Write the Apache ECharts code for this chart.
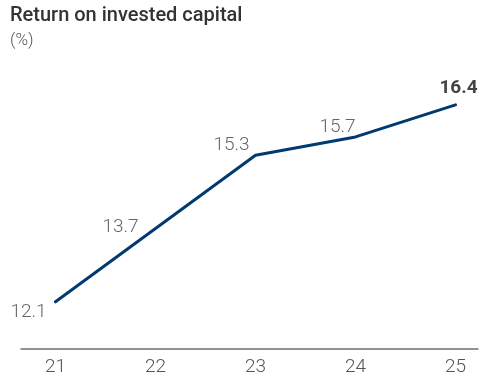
<!DOCTYPE html>
<html>
<head>
<meta charset="utf-8">
<script src="https://cdn.jsdelivr.net/npm/echarts@6/dist/echarts.min.js"></script>
<style>html,body{margin:0;padding:0;background:#fff}#c{width:481px;height:381px}</style>
</head>
<body>
<div id="c"></div>
<script>
const categories = ['21', '22', '23', '24', '25'];
const roic = [12.1, 13.7, 15.3, 15.7, 16.4];
const labelOffsets = [[-27, 10], [-35, -1], [-24, -10], [-18, -10], [3, -17]];

const FONT = 'Roboto';
const chart = echarts.init(document.getElementById('c'), null, {renderer: 'canvas'});
chart.setOption({
  animation: false,
  backgroundColor: '#ffffff',
  title: {
    text: 'Return on invested capital',
    subtext: '(%)',
    left: 5, top: 1,
    itemGap: 6,
    textStyle: {fontFamily: FONT, fontSize: 20, fontWeight: 500, color: '#333333'},
    subtextStyle: {fontFamily: FONT, fontSize: 17, fontWeight: 300, color: '#555555'}
  },
  grid: [
    {left: 55.5, right: 25.5, top: 74.2, bottom: 32},
    {left: 21, right: 3, top: 74.2, bottom: 32}
  ],
  xAxis: [
    {
      type: 'category', gridIndex: 0, data: categories, boundaryGap: false,
      axisLine: {show: false}, axisTick: {show: false}, splitLine: {show: false},
      axisLabel: {fontFamily: FONT, fontSize: 19, fontWeight: 300, color: '#555555', margin: 9}
    },
    {
      type: 'value', gridIndex: 1, min: 0, max: 1,
      axisLine: {show: true, lineStyle: {color: '#6f6f6f', width: 1.5}},
      axisTick: {show: false}, axisLabel: {show: false}, splitLine: {show: false}
    }
  ],
  yAxis: [
    {type: 'value', gridIndex: 0, min: 11.07, max: 17.07, show: false},
    {type: 'value', gridIndex: 1, min: 0, max: 1, show: false}
  ],
  series: [{
    type: 'line',
    xAxisIndex: 0, yAxisIndex: 0,
    data: roic.map((v, i) => ({
      value: v,
      label: {
        position: labelOffsets[i],
        fontWeight: i === roic.length - 1 ? 'bold' : 300,
        color: i === roic.length - 1 ? '#444444' : '#666666'
      }
    })),
    symbol: 'circle',
    symbolSize: 0.01,
    itemStyle: {color: '#003a70'},
    lineStyle: {color: '#003a70', width: 3, cap: 'round'},
    label: {
      show: true,
      fontFamily: FONT, fontSize: 19,
      align: 'center', verticalAlign: 'middle',
      formatter: p => p.value.toFixed(1)
    }
  }]
});
</script>
</body>
</html>
